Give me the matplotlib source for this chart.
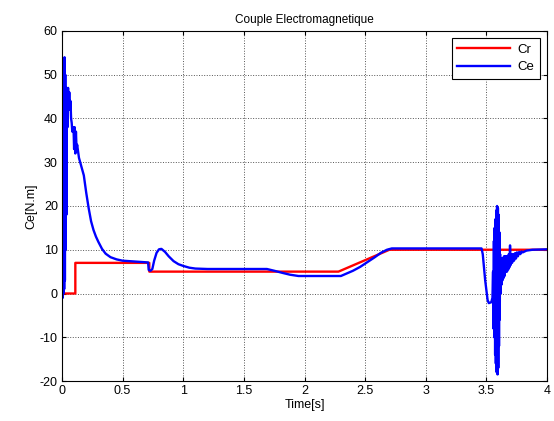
import matplotlib.pyplot as plt

plt.rcParams['font.family'] = ['Liberation Sans', 'DejaVu Sans']
plt.rcParams['axes.unicode_minus'] = False

# ================================
# Datos
# ================================
t_cr = [0, 0.11, 0.11, 0.72, 0.72, 2.28, 2.70, 4.0]
cr = [0, 0, 7, 7, 5, 5, 10, 10]

t_ce = [0, 0.003, 0.006, 0.009, 0.012, 0.015, 0.018, 0.021, 0.024, 0.027,
        0.030, 0.033, 0.036, 0.040, 0.045, 0.050, 0.055, 0.060, 0.065, 0.070,
        0.075, 0.080, 0.085, 0.095, 0.100, 0.105, 0.110, 0.115, 0.120, 0.125,
        0.14, 0.16, 0.18, 0.20, 0.22, 0.24, 0.26, 0.28, 0.30, 0.33,
        0.36, 0.40, 0.45, 0.50, 0.55, 0.60, 0.65, 0.71, 0.715, 0.73,
        0.745, 0.76, 0.78, 0.80, 0.82, 0.85, 0.88, 0.92, 0.96, 1.0,
        1.05, 1.1, 1.2, 1.69, 1.75, 1.82, 1.88, 1.95, 2.30, 2.35,
        2.40, 2.46, 2.52, 2.58, 2.63, 2.68, 2.72, 3.46, 3.47, 3.49,
        3.51, 3.52, 3.54, 3.55, 3.555, 3.558, 3.562, 3.565, 3.568, 3.572,
        3.575, 3.578, 3.582, 3.585, 3.588, 3.592, 3.595, 3.598, 3.601, 3.604,
        3.607, 3.610, 3.613, 3.617, 3.620, 3.624, 3.628, 3.632, 3.636, 3.640,
        3.645, 3.650, 3.655, 3.660, 3.665, 3.670, 3.675, 3.680, 3.685, 3.690,
        3.695, 3.700, 3.705, 3.712, 3.720, 3.728, 3.736, 3.744, 3.752, 3.760,
        3.770, 3.780, 3.79, 3.80, 3.83, 3.88, 4.0]
ce = [0, 30, -1, 45, 0, 50, 1, 54, 3, 50,
      10, 47, 18, 45, 38, 47, 42, 46, 42, 44,
      40, 39, 37, 38, 33, 38, 32, 37, 33, 34,
      31, 29, 27, 23, 19.5, 16.5, 14.5, 13, 11.8, 10.2,
      9.1, 8.3, 7.8, 7.5, 7.4, 7.3, 7.2, 7.1, 5.4, 5.2,
      5.6, 7.5, 9.3, 10.1, 10.2, 9.5, 8.5, 7.4, 6.7, 6.3,
      5.9, 5.7, 5.6, 5.6, 5.2, 4.7, 4.3, 4.0, 4.0, 4.6,
      5.2, 6.1, 7.2, 8.3, 9.3, 10.0, 10.3, 10.3, 9.0, 3,
      -1.5, -2.2, -2.0, -1, 5, -8, 12, -10, 15, -14,
      17, -16, 19, -18, 20, -18.5, 19.5, -17, 18, -12,
      14, -6, 9, 0, 8, 2, 8, 3, 8, 3.5,
      8.5, 4, 8.5, 5, 8.5, 5, 8.5, 5.5, 9, 6,
      11, 6.5, 9, 7, 9, 7.5, 9.2, 8, 9.4, 8.5,
      9.5, 9, 9.6, 9.4, 9.8, 10.0, 10.1]

x_ticks = [0, 0.5, 1, 1.5, 2, 2.5, 3, 3.5, 4]
x_labels = ["0", "0.5", "1", "1.5", "2", "2.5", "3", "3.5", "4"]
y_ticks = [-20, -10, 0, 10, 20, 30, 40, 50, 60]

# ================================
# Grafica
# ================================
fig = plt.figure(figsize=(5.54, 4.21), dpi=100)
ax = fig.add_axes([0.1119, 0.095, 0.8755, 0.8314])

ax.plot(t_cr, cr, color="red", linewidth=1.7, label="Cr")
ax.plot(t_ce, ce, color="blue", linewidth=1.7, label="Ce")

ax.set_xlim(0, 4)
ax.set_ylim(-20, 60)
ax.set_xticks(x_ticks)
ax.set_xticklabels(x_labels)
ax.set_yticks(y_ticks)
ax.tick_params(direction="in", top=True, right=True, labelsize=9, length=3, pad=3)

ax.grid(True, linestyle=":", color="#555555", linewidth=0.7)
for s in ax.spines.values():
    s.set_linewidth(0.8)

ax.set_title("Couple Electromagnetique", fontsize=8.5, pad=6)
ax.set_xlabel("Time[s]", fontsize=9, labelpad=1)
ax.set_ylabel("Ce[N.m]", fontsize=9, labelpad=2)

leg = ax.legend(loc="upper right", fontsize=9.5, fancybox=False, framealpha=1,
                edgecolor="black", handlelength=4.0, borderaxespad=0.55,
                labelspacing=0.4, handletextpad=0.6, borderpad=0.4)
leg.get_frame().set_linewidth(0.8)

plt.savefig("out.png", dpi=100)
